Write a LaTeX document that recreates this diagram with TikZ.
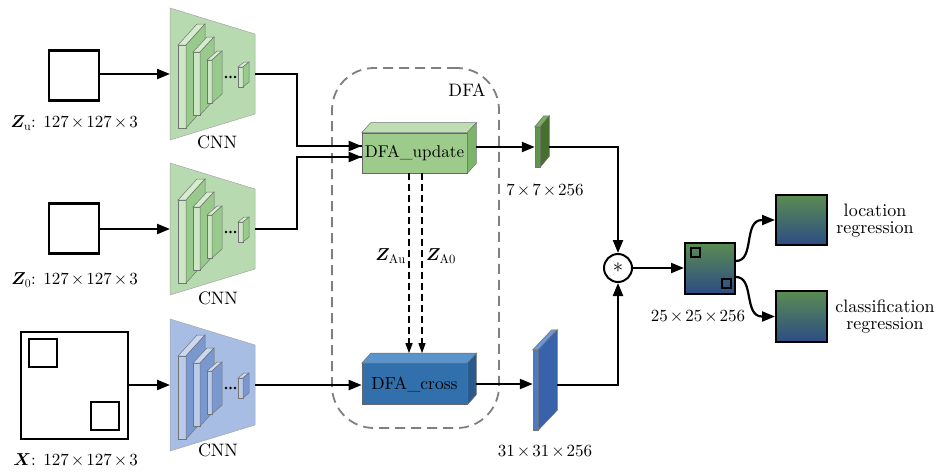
\documentclass[tikz,border=0pt]{standalone}
\usepackage{amsmath}
\usepackage{bm}
\usepackage{fontspec}
\setmainfont{lmroman10-regular}[Extension=.otf]
\usetikzlibrary{arrows.meta,calc}

% palettes: P = panel, F = front face, T = top face, S = side face
\definecolor{gP}{HTML}{B7DAB0}
\definecolor{gF}{HTML}{CDE7C5}
\definecolor{gT}{HTML}{D6ECCF}
\definecolor{gS}{HTML}{97CA8B}
\definecolor{bP}{HTML}{A7BDE3}
\definecolor{bF}{HTML}{BACBE9}
\definecolor{bT}{HTML}{CBD8EF}
\definecolor{bS}{HTML}{7A98D0}
\definecolor{uF}{HTML}{9DCB8B}
\definecolor{uT}{HTML}{BFDFB2}
\definecolor{uS}{HTML}{7CB56A}
\definecolor{cF}{HTML}{3170AD}
\definecolor{cT}{HTML}{5B93CB}
\definecolor{cS}{HTML}{2A5A8C}
\definecolor{sgF}{HTML}{5F9648}
\definecolor{sgT}{HTML}{7AAE60}
\definecolor{sgS}{HTML}{45702F}
\definecolor{sbF}{HTML}{4A7CC4}
\definecolor{sbT}{HTML}{6A98D8}
\definecolor{sbS}{HTML}{3862AA}
\definecolor{mapTop}{HTML}{5B8C52}
\definecolor{mapMid}{HTML}{3B74BF}
\definecolor{mapBot}{HTML}{2C4C84}
\definecolor{dfaGray}{HTML}{7F7F7F}

\tikzset{
  cubeedge/.style={draw=black!55, line width=0.5pt},
  trapedge/.style={draw=black!35, line width=0.5pt},
  arr/.style={line width=2.2pt, -{Triangle[length=13pt,width=10pt]}},
  wire/.style={line width=2.2pt},
  dasharr/.style={line width=1.3pt, dash pattern=on 7pt off 4pt,
                  -{Triangle[length=10pt,width=7pt]}},
  inbox/.style={draw, line width=2.2pt, inner sep=0pt, fill=white},
  mapbox/.style={draw, line width=2pt, inner sep=0pt,
                 top color=mapTop, middle color=mapMid, bottom color=mapBot},
  facebox/.style={draw=black!60, line width=0.6pt, inner sep=0pt},
  lbl/.style={inner sep=0pt},
  dimlbl/.style={inner sep=0pt, font=\fontsize{17}{19}\selectfont}
}

\newcommand{\tms}{\kern2pt$\times$\kern2pt}

% cuboid: front face (x1,y1)-(x2,y2), depth (dx,dy) up-right, palette prefix
\newcommand{\cuboid}[7]{%
  \filldraw[cubeedge, fill=#7F] (#1,#2) rectangle (#3,#4);
  \filldraw[cubeedge, fill=#7T] (#1,#2) -- ++(#5,-#6) -- ($(#3,#2)+(#5,-#6)$) -- (#3,#2) -- cycle;
  \filldraw[cubeedge, fill=#7S] (#3,#2) -- ++(#5,-#6) -- ($(#3,#4)+(#5,-#6)$) -- (#3,#4) -- cycle;
}

% backbone block centred on height #2
\newcommand{\cnnblock}[3]{%
  \filldraw[trapedge, fill=#3P] (170,#2-66) -- (255,#2-40) -- (255,#2+40) -- (170,#2+66) -- cycle;
  \cuboid{178}{#2-29}{186}{#2+54}{19}{21}{#3}
  \cuboid{193}{#2-22}{200}{#2+41}{14}{15}{#3}
  \cuboid{207}{#2-14}{212}{#2+29}{10}{9}{#3}
  \cuboid{238}{#2-7}{243}{#2+13}{6}{5}{#3}
  \foreach \dx in {226,230.5,235} \fill (\dx,#2+3) circle (1.4);
  \coordinate (#1-in) at (170,#2);
  \coordinate (#1-out) at (255,#2);
}

\begin{document}
\begin{tikzpicture}[x=1pt,y=-1pt, font=\fontsize{18}{20}\selectfont]
\useasboundingbox (0,0) rectangle (938,474);

% ---------- inputs ----------
\node[inbox, minimum size=50pt] (zu) at (74,75.5) {};
\node[inbox, minimum size=50pt] (z0) at (74,228.5) {};
\node[inbox, minimum size=107pt] (x) at (74.5,385.5) {};
\node[inbox, line width=2pt, minimum size=28pt] (xa) at (42.5,353) {};
\node[inbox, line width=2pt, minimum size=28pt] (xb) at (105,416) {};

\node[dimlbl, anchor=east] (zulbl) at (138,123) {$\bm{Z}_{\mathrm{u}}$: 127\tms127\tms3};
\node[dimlbl, anchor=east] (z0lbl) at (138,280) {$\bm{Z}_{0}$: 127\tms127\tms3};
\node[dimlbl, anchor=east] (xlbl) at (138,460) {$\bm{X}$: 127\tms127\tms3};

% ---------- backbones ----------
\cnnblock{cnnA}{74}{g}
\cnnblock{cnnB}{229}{g}
\cnnblock{cnnC}{385}{b}
\node[lbl] (cnnAlbl) at (217,142) {CNN};
\node[lbl] (cnnBlbl) at (218,298) {CNN};
\node[lbl] (cnnClbl) at (218,450) {CNN};

\draw[arr] (zu.east |- cnnA-in) -- (cnnA-in);
\draw[arr] (z0.east |- cnnB-in) -- (cnnB-in);
\draw[arr] (x.east |- cnnC-in) -- (cnnC-in);

% ---------- DFA module ----------
\node[draw=dfaGray, line width=1.8pt, dash pattern=on 10pt off 6pt,
      rounded corners=42pt, minimum width=167pt, minimum height=360pt]
      (dfa) at (415.5,248) {};
\node[lbl] (dfalbl) at (467,90) {DFA};

\node[facebox, fill=uF, minimum width=105pt, minimum height=40pt,
      font=\fontsize{17}{19}\selectfont] (upd) at (414.5,153) {DFA\_update};
\filldraw[cubeedge, fill=uT] (upd.north west) -- ++(9,-10) -- ($(upd.north east)+(9,-10)$) -- (upd.north east) -- cycle;
\filldraw[cubeedge, fill=uS] (upd.north east) -- ++(9,-10) -- ($(upd.south east)+(9,-10)$) -- (upd.south east) -- cycle;

\node[facebox, fill=cF, minimum width=105pt, minimum height=41pt,
      font=\fontsize{17.5}{19}\selectfont] (cross) at (414.5,384) {DFA\_cross};
\filldraw[cubeedge, fill=cT] (cross.north west) -- ++(9,-10) -- ($(cross.north east)+(9,-10)$) -- (cross.north east) -- cycle;
\filldraw[cubeedge, fill=cS] (cross.north east) -- ++(9,-10) -- ($(cross.south east)+(9,-10)$) -- (cross.south east) -- cycle;

\draw[wire] (cnnA-out) -- (297,74) |- ($(upd.west)+(0,-7)$) coordinate (updinA);
\draw[arr] (297,146) -- (updinA);
\draw[wire] (cnnB-out) -- (297,229) |- ($(upd.west)+(0,4)$) coordinate (updinB);
\draw[arr] (297,157) -- (updinB);
\draw[arr] (cnnC-out) -- (cnnC-out -| cross.west);

\draw[dasharr] ($(upd.south)+(-5.5,0)$) -- ($(cross.north)+(-5.5,-10)$);
\draw[dasharr] ($(upd.south)+(7.5,0)$) -- ($(cross.north)+(7.5,-10)$);
\node[lbl, anchor=east] (zau) at (406,256) {$\bm{Z}_{\mathrm{Au}}$};
\node[lbl, anchor=west] (za0) at (426,256) {$\bm{Z}_{\mathrm{A0}}$};

% ---------- template / search features ----------
\node[facebox, draw=black!55, line width=0.5pt, fill=sgF, minimum width=5pt, minimum height=40pt] (gs) at (537.5,147) {};
\filldraw[cubeedge, fill=sgT] (gs.north west) -- ++(9,-11) -- ($(gs.north east)+(9,-11)$) -- (gs.north east) -- cycle;
\filldraw[cubeedge, fill=sgS] (gs.north east) -- ++(9,-11) -- ($(gs.south east)+(9,-11)$) -- (gs.south east) -- cycle;
\node[dimlbl] (gslbl) at (545,190) {7\tms7\tms256};

\node[facebox, draw=black!55, line width=0.5pt, fill=sbF, minimum width=5pt, minimum height=80pt] (bs) at (535.5,390) {};
\filldraw[cubeedge, fill=sbT] (bs.north west) -- ++(19,-20) -- ($(bs.north east)+(19,-20)$) -- (bs.north east) -- cycle;
\filldraw[cubeedge, fill=sbS] (bs.north east) -- ++(19,-20) -- ($(bs.south east)+(19,-20)$) -- (bs.south east) -- cycle;
\node[dimlbl] (bslbl) at (545,452) {31\tms31\tms256};

\draw[arr] ($(upd.east)+(9,-6)$) -- (gs.west);
\draw[arr] ($(cross.east)+(9,0)$) -- (cross.east -| bs.west);

% ---------- correlation and heads ----------
\node[draw, circle, line width=2pt, minimum size=28pt, inner sep=0pt, fill=white,
      font=\fontsize{21}{21}\selectfont] (conv) at (618,268) {$\ast$};
\draw[arr] ($(gs.east)+(9,0)$) -| (conv.north);
\draw[arr] ($(bs.east)+(19,-5)$) -| (conv.south);

\node[mapbox, minimum width=50pt, minimum height=51pt] (fm) at (710,268) {};
\draw[line width=2pt] (695.5,252.5) +(-4.5,-4.5) rectangle +(4.5,4.5);
\draw[line width=2pt] (726.5,283.5) +(-4.5,-4.5) rectangle +(4.5,4.5);
\node[dimlbl] (fmlbl) at (698,317) {25\tms25\tms256};
\draw[arr] (conv.east) -- (fm.west);

\node[mapbox, minimum width=51pt, minimum height=50pt] (loc) at (801.5,220) {};
\node[mapbox, minimum width=51pt, minimum height=51pt] (cls) at (801.5,316.5) {};
\node[lbl, align=center, font=\fontsize{18}{17}\selectfont] (loclbl) at (875,221) {location\\regression};
\node[lbl, align=center, font=\fontsize{18}{17}\selectfont] (clslbl) at (885,317) {classification\\regression};

\draw[arr] ($(fm.east)+(0,-7)$) to[out=0,in=180] ($(loc.west)+(-13,0)$) -- (loc.west);
\draw[arr] ($(fm.east)+(0,9)$) to[out=0,in=180] ($(cls.west)+(-13,0)$) -- (cls.west);
\end{tikzpicture}
\end{document}
